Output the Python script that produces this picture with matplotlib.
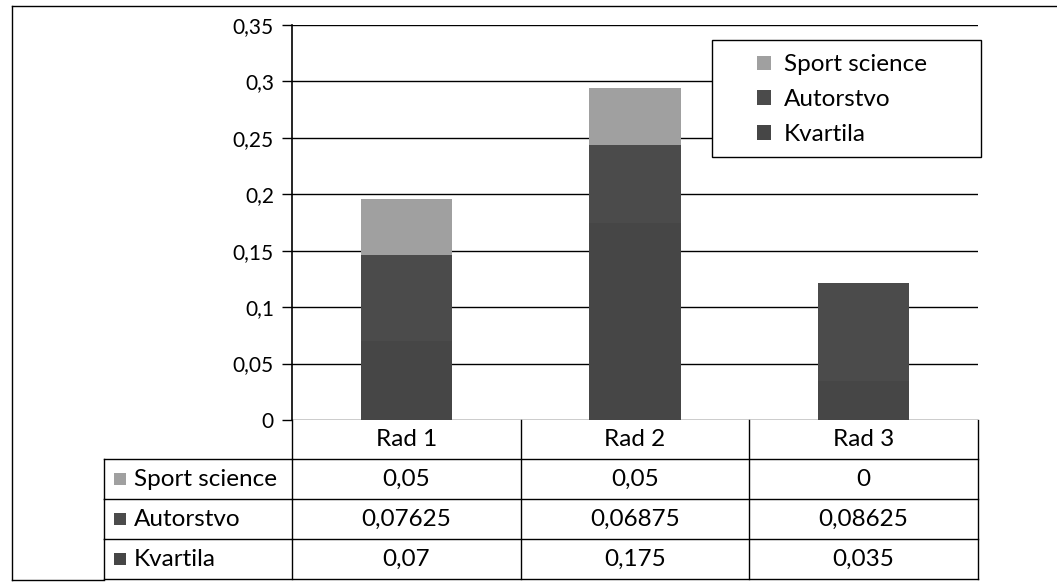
import matplotlib
matplotlib.use('Agg')
import matplotlib.pyplot as plt
from matplotlib.patches import Rectangle
from matplotlib.lines import Line2D
import matplotlib.transforms as mtransforms
import numpy as np

plt.rcParams['font.family'] = ['Lato', 'DejaVu Sans']

# data
categories = ['Rad 1', 'Rad 2', 'Rad 3']
series_names = ['Kvartila', 'Autorstvo', 'Sport science']
kvartila = [0.07, 0.175, 0.035]
autorstvo = [0.07625, 0.06875, 0.08625]
sport_science = [0.05, 0.05, 0.0]
y_ticks = [0, 0.05, 0.1, 0.15, 0.2, 0.25, 0.3, 0.35]
y_tick_labels = ['0', '0,05', '0,1', '0,15', '0,2', '0,25', '0,3', '0,35']

colors = {'Kvartila': '#464646', 'Autorstvo': '#4b4b4b', 'Sport science': '#a0a0a0'}
FS_TICK = 15
FS = 17.5

W, H = 1057, 584
fig = plt.figure(figsize=(W / 100, H / 100), dpi=100)

def fx(px):
    return px / W

def fy(py):
    return 1 - py / H

ax = fig.add_axes([fx(292), fy(420), fx(978) - fx(292), fy(25) - fy(420)])

x = np.arange(len(categories))
values = {'Kvartila': kvartila, 'Autorstvo': autorstvo, 'Sport science': sport_science}
bottom = np.zeros(len(categories))
for name in series_names:
    v = np.array(values[name])
    ax.bar(x, v, 0.4, bottom=bottom, color=colors[name], edgecolor='none', zorder=3)
    bottom += v

ax.set_xlim(-0.5, 2.5)
ax.set_ylim(0, 0.35)
ax.set_yticks(y_ticks)
ax.set_yticklabels(y_tick_labels, fontsize=FS_TICK)
ax.set_xticks([])
ax.grid(axis='y', color='black', linewidth=1.0, zorder=0)
ax.tick_params(axis='y', length=7, width=1, color='black', pad=6)
for side in ['top', 'right', 'bottom']:
    ax.spines[side].set_visible(False)
ax.spines['left'].set_linewidth(1.2)

# data table under the axes
row_h = 40 / 395.0
header_h = 39 / 395.0
blend = mtransforms.blended_transform_factory(ax.transData, ax.transAxes)
ax_left_px, ax_w_px = 292, 978 - 292
label_left = (104 - ax_left_px) / ax_w_px

lw = 1.0
line_kw = dict(color='black', linewidth=lw, clip_on=False, transform=ax.transAxes)
# header row
ax.add_line(Line2D([0, 0], [0, -header_h], **line_kw))
for i, cat in enumerate(categories):
    ax.add_line(Line2D([(i + 1) / 3, (i + 1) / 3], [0, -header_h - 3 * row_h], **line_kw))
    ax.text(i, -header_h / 2, cat, transform=blend, ha='center', va='center', fontsize=FS)

table_rows = ['Sport science', 'Autorstvo', 'Kvartila']
y0 = -header_h
ax.add_line(Line2D([label_left, 1], [y0, y0], **line_kw))
for r, name in enumerate(table_rows):
    top = y0 - r * row_h
    bot = top - row_h
    ax.add_line(Line2D([label_left, 1], [bot, bot], **line_kw))
    ax.add_line(Line2D([label_left, label_left], [top, bot], **line_kw))
    ax.add_line(Line2D([0, 0], [top, bot], **line_kw))
    mid = (top + bot) / 2
    ax.add_patch(Rectangle((label_left + 10 / ax_w_px, mid - 6 / 395), 12 / ax_w_px, 12 / 395,
                           transform=ax.transAxes, facecolor=colors[name], edgecolor='none', clip_on=False))
    ax.text(label_left + 30 / ax_w_px, mid, name, transform=ax.transAxes, ha='left', va='center', fontsize=FS)
    for i, v in enumerate(values[name]):
        ax.text(i, mid, f'{v:g}'.replace('.', ','), transform=blend, ha='center', va='center', fontsize=FS)

# outer frame of the chart area
fig.add_artist(Line2D([fx(12), 1.0], [fy(6), fy(6)], color='black', linewidth=1.0))
fig.add_artist(Line2D([fx(12), fx(12)], [fy(6), fy(580)], color='black', linewidth=1.0))
fig.add_artist(Line2D([fx(12), fx(104)], [fy(580), fy(580)], color='black', linewidth=1.0))

# legend box
fig.add_artist(Rectangle((fx(712), fy(157)), fx(981) - fx(712), fy(40) - fy(157),
                         facecolor='white', edgecolor='black', linewidth=1.0, zorder=5))
handles = [Rectangle((0, 0), 1, 1, facecolor=colors[n], edgecolor='none') for n in table_rows]
leg = fig.legend(handles, table_rows, loc='upper left', bbox_to_anchor=(fx(738), fy(35)),
                 frameon=False, fontsize=FS, handlelength=0.55, handleheight=0.55,
                 handletextpad=0.55, labelspacing=0.57, borderpad=0.3)
leg.set_zorder(6)

fig.savefig('out.png', dpi=100, facecolor='white')
